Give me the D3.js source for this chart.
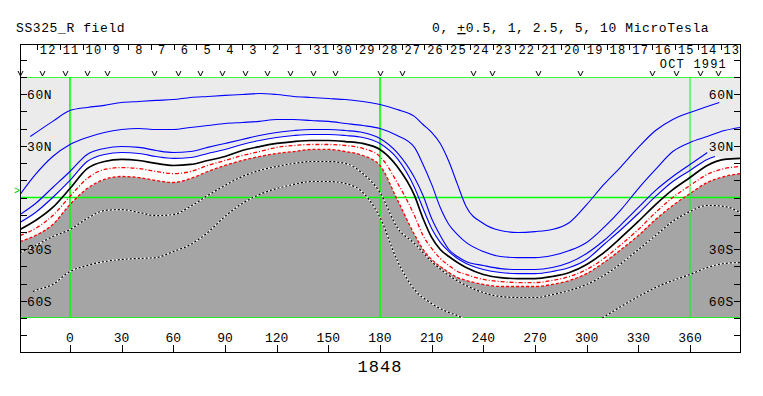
<!DOCTYPE html>
<html>
<head>
<meta charset="utf-8">
<script src="https://cdn.jsdelivr.net/npm/d3@7"></script>
<style>
  body { margin: 0; background: #fff; }
  svg { display: block; }
  text { font-family: "Liberation Mono", "DejaVu Sans Mono", monospace; fill: #000; }
</style>
</head>
<body>
<svg id="chart"></svg>
<script>
// Day labels along the top (Carrington longitude runs backwards in time)
const dayLabels = [12, 11, 10, 9, 8, 7, 6, 5, 4, 3, 2, 1, 31, 30, 29, 28, 27, 26, 25, 24, 23, 22, 21, 20, 19, 18, 17, 16, 15, 14, 13];
const dayTicks = [-19.2, -6.0, 7.3, 20.5, 33.7, 47.0, 60.2, 73.4, 86.6, 99.9, 113.1, 126.3, 139.6, 152.8, 166.0,
  179.3, 192.5, 205.7, 218.9, 232.2, 245.4, 258.6, 271.9, 285.1, 298.3, 311.6, 324.8, 338.0, 351.2, 364.5, 377.7, 390.9];
const orbitMarks = [-29, -16, -3, 10, 21.5, 49, 63, 75.5, 88, 101.5, 114.5, 128, 141, 154, 180, 193, 234, 245, 272, 296, 338, 352, 366, 376];
const lonTicks = [0, 30, 60, 90, 120, 150, 180, 210, 240, 270, 300, 330, 360];
const latTicks = [-80, -70, -60, -50, -40, -30, -20, -10, 0, 10, 20, 30, 40, 50, 60, 70, 80];
const latLabels = [60, 30, -30, -60];
const gridLons = [0, 180, 360];
const gridLats = [70, 0, -70];
const subEarthLat = 3.5;

// Contour lines, [longitude, latitude], levels in microtesla
const pos5 = [[-23,35.4],[-10,44.2],[0,50.5],[10,52.3],[20,53.5],[30,55.2],[40,55.8],[50,56.4],[60,56.9],[70,58.1],[80,58.7],[90,59.3],[100,59.8],[110,60.4],[120,59.8],[130,58.7],[140,58.1],[150,57.5],[160,56.9],[170,55.8],[180,54.0],[190,51.1],[200,47.1],[205,42.4],[210,37.8],[215,31.4],[220,20.9],[225,7.6],[230,-5.2],[240,-15.1],[250,-19.2],[260,-20.3],[270,-19.8],[280,-18.6],[290,-14.5],[300,-4.1],[310,7.6],[320,18.0],[330,29.1],[340,38.9],[350,45.3],[360,49.4],[370,52.9],[377,55.2]];
const pos2_5 = [[-29,1.7],[-20,13.4],[-10,23.8],[0,30.8],[10,34.9],[20,37.8],[30,39.5],[40,40.1],[50,39.5],[60,39.5],[70,40.7],[80,41.8],[90,43.0],[100,43.6],[110,44.2],[120,45.3],[130,45.3],[140,44.7],[150,44.2],[160,43.0],[170,41.8],[180,40.1],[190,36.0],[200,29.1],[205,19.2],[210,7.6],[215,-5.8],[220,-15.7],[225,-21.5],[230,-26.1],[240,-31.4],[250,-34.3],[260,-34.9],[270,-34.9],[280,-33.7],[290,-30.8],[300,-26.1],[310,-17.4],[320,-7.0],[330,5.2],[340,16.3],[350,26.7],[360,32.0],[370,35.4],[380,38.9],[389,40.7]];
const pos1 = [[-29,-9.9],[-20,-3.5],[-10,5.8],[0,15.1],[10,25.0],[20,28.5],[30,29.6],[40,29.1],[50,27.3],[60,26.1],[70,26.7],[80,29.1],[90,31.4],[100,33.7],[110,36.0],[120,37.8],[130,38.9],[140,39.5],[150,39.5],[160,38.9],[170,37.8],[180,34.3],[190,26.1],[200,11.6],[205,1.2],[210,-12.2],[215,-22.1],[220,-30.2],[225,-34.3],[230,-37.2],[240,-39.5],[250,-41.3],[260,-41.8],[270,-41.8],[280,-40.7],[290,-37.8],[300,-32.5],[310,-25.0],[320,-15.7],[330,-5.8],[340,4.1],[350,12.2],[360,19.2],[370,26.1]];
const pos0_5 = [[-29,-14.5],[-20,-8.7],[-10,0],[0,9.9],[10,20.9],[20,25.0],[30,26.1],[40,25.6],[50,23.8],[60,22.7],[70,23.2],[80,25.6],[90,27.9],[100,30.8],[110,33.1],[120,34.9],[130,36.0],[140,36.6],[150,36.6],[160,36.0],[170,34.9],[180,31.4],[190,22.7],[200,5.8],[205,-6.4],[210,-18.0],[215,-26.1],[220,-31.4],[225,-35.4],[230,-38.3],[240,-41.8],[250,-43.6],[260,-44.2],[270,-44.2],[280,-43.0],[290,-40.7],[300,-36.0],[310,-27.3],[320,-18.6],[330,-9.3],[340,0.6],[350,9.3],[360,15.7],[370,22.1],[374.5,23.8]];
const zero = [[-29,-18.6],[-20,-13.4],[-10,-5.8],[0,5.2],[10,16.8],[20,20.9],[30,22.1],[40,21.5],[50,19.8],[60,18.6],[70,19.2],[80,21.5],[90,23.8],[100,27.3],[110,29.6],[120,31.4],[130,32.5],[140,33.1],[150,33.1],[160,32.5],[170,31.4],[180,27.9],[190,18.0],[200,1.2],[205,-12.2],[210,-23.2],[215,-30.2],[220,-34.3],[225,-37.8],[230,-40.7],[240,-44.7],[250,-46.5],[260,-47.1],[270,-47.1],[280,-45.9],[290,-43.6],[300,-38.9],[310,-32.0],[320,-23.2],[330,-13.9],[340,-4.1],[350,4.6],[360,11.6],[370,18.6],[380,22.1],[389,22.7]];
const neg0_5 = [[-29,-22.1],[-20,-18.0],[-10,-10.5],[0,0.6],[10,11.0],[20,16.3],[30,17.4],[40,16.8],[50,15.1],[60,13.9],[70,15.1],[80,18.6],[90,21.5],[100,24.4],[110,26.7],[120,29.1],[130,30.2],[140,30.8],[150,30.8],[160,30.2],[170,28.5],[180,23.8],[190,8.7],[200,-10.5],[205,-22.1],[210,-29.6],[215,-35.4],[220,-39.5],[225,-43.0],[230,-44.7],[240,-47.6],[250,-48.8],[260,-49.4],[270,-49.4],[280,-48.2],[290,-45.9],[300,-41.8],[310,-35.4],[320,-27.3],[330,-18.6],[340,-8.7],[350,0],[360,7.0],[370,13.4],[380,16.8],[389,18.0]];
const neg1 = [[-29,-25.6],[-20,-22.1],[-10,-15.7],[0,-4.1],[10,5.2],[20,10.5],[30,12.2],[40,11.6],[50,9.9],[60,8.7],[70,11.0],[80,15.1],[90,18.6],[100,21.5],[110,23.8],[120,25.6],[130,26.7],[140,27.9],[150,27.9],[160,26.7],[170,24.4],[180,18.6],[190,-1.2],[200,-21.5],[205,-30.2],[210,-36.0],[215,-40.1],[220,-43.6],[225,-46.5],[230,-48.2],[240,-50.5],[250,-51.7],[260,-51.7],[270,-51.7],[280,-50.5],[290,-48.2],[300,-44.2],[310,-37.8],[320,-30.2],[330,-22.1],[340,-12.8],[350,-4.6],[360,2.3],[370,8.7],[380,12.2],[389,13.9]];
const neg2_5 = [[-29,-32.0],[-20,-27.9],[-10,-22.7],[0,-18.6],[10,-12.2],[20,-7.6],[30,-7.0],[40,-8.7],[50,-10.5],[60,-9.9],[70,-5.2],[80,1.2],[90,7.0],[100,12.2],[110,15.7],[120,18.0],[130,19.8],[140,20.9],[150,20.9],[160,19.8],[170,13.9],[180,2.9],[190,-17.4],[200,-26.7],[210,-37.2],[220,-45.3],[230,-51.1],[240,-55.2],[250,-57.5],[260,-58.1],[270,-58.1],[280,-56.4],[290,-54.0],[300,-50.5],[310,-45.3],[320,-38.3],[330,-30.2],[340,-22.1],[350,-13.9],[360,-8.1],[370,-4.6],[380,-5.2],[389,-8.7]];
const neg5West = [[-21.5,-54.6],[-20,-54.0],[-10,-50.5],[0,-43.0],[10,-39.5],[20,-37.2],[30,-36.0],[40,-35.4],[50,-34.9],[60,-31.4],[70,-27.3],[80,-20.3],[90,-11.0],[100,-3.5],[110,1.7],[120,5.2],[130,7.6],[140,9.3],[150,9.3],[160,8.1],[170,2.9],[180,-11.6],[190,-36.6],[200,-53.5],[210,-61.6],[220,-66.8],[225,-68.6],[228,-70]];
const neg5East = [[309,-70],[320,-63.3],[330,-57.5],[340,-52.3],[350,-48.2],[360,-44.7],[370,-40.7],[380,-38.3],[389,-37.8]];

const width = 763, height = 396;
const svg = d3.select("#chart").attr("width", width).attr("height", height);

const x = d3.scaleLinear().domain([-29, 389.6]).range([20, 741]);
const y = d3.scaleLinear().domain([-70, 70]).range([318, 77]);

// all labels share one monospace cell width, like the original plot
const mono = sel => sel.attr("font-size", 13).attr("letter-spacing", 0.6);
const monoSmall = sel => sel.attr("font-size", 12).attr("letter-spacing", 1.2);

svg.append("defs").append("clipPath").attr("id", "map")
  .append("rect")
  .attr("x", x(-29)).attr("y", y(70))
  .attr("width", x(389.6) - x(-29)).attr("height", y(-70) - y(70));

const map = svg.append("g").attr("clip-path", "url(#map)");

// Background shading: light above +0.5, white in the band, dark below -1
map.append("rect")
  .attr("x", x(-29)).attr("y", y(70))
  .attr("width", x(389.6) - x(-29)).attr("height", y(-70) - y(70))
  .attr("fill", "#ebebeb");

const area = d3.area()
  .x(d => x(d[0]))
  .y0(y(-70))
  .y1(d => y(d[1]))
  .curve(d3.curveMonotoneX);

const lastLon = pos0_5[pos0_5.length - 1][0];
const whiteEdge = pos0_5.concat(zero.filter(d => d[0] > lastLon));

map.append("path").datum(whiteEdge).attr("d", area).attr("fill", "#ffffff");
map.append("path").datum(neg1).attr("d", area).attr("fill", "#a5a5a5");

// Green reference lines
const green = "#00ff00";
map.selectAll(".glat").data(gridLats).enter().append("line")
  .attr("x1", x(-29)).attr("x2", x(389.6))
  .attr("y1", d => y(d)).attr("y2", d => y(d))
  .attr("stroke", green).attr("stroke-width", 1.6);
map.selectAll(".glon").data(gridLons).enter().append("line")
  .attr("x1", d => x(d)).attr("x2", d => x(d))
  .attr("y1", y(70)).attr("y2", y(-70))
  .attr("stroke", green).attr("stroke-width", d => d === 360 ? 1 : 1.6);

// Contours
const line = d3.line()
  .x(d => x(d[0]))
  .y(d => y(d[1]))
  .curve(d3.curveMonotoneX);

const drawLine = (data, stroke, w, dash) => {
  map.append("path").datum(data)
    .attr("d", line)
    .attr("fill", "none")
    .attr("stroke", stroke)
    .attr("stroke-width", w)
    .attr("stroke-dasharray", dash || null);
};

[neg2_5, neg5West, neg5East].forEach(d => {
  drawLine(d, "#ffffff", 1.2);
  drawLine(d, "#000000", 1.2, "2,2");
});
drawLine(neg1, "#ff0000", 1.3, "3,2");
drawLine(neg0_5, "#ff0000", 1.3, "4,2,1,2");
[pos5, pos2_5, pos1, pos0_5].forEach(d => drawLine(d, "#0000ff", 1.1));
drawLine(zero, "#000000", 1.7);

// Frame
svg.append("rect")
  .attr("x", 20.5).attr("y", 44.5)
  .attr("width", 720).attr("height", 308)
  .attr("fill", "none").attr("stroke", "#000").attr("stroke-width", 1);

// Latitude ticks and labels on both sides
svg.selectAll(".tl").data(latTicks).enter().append("line")
  .attr("x1", 20).attr("x2", 27)
  .attr("y1", d => Math.round(y(d)) + 0.5).attr("y2", d => Math.round(y(d)) + 0.5)
  .attr("stroke", "#000");
svg.selectAll(".tr").data(latTicks).enter().append("line")
  .attr("x1", 734).attr("x2", 741)
  .attr("y1", d => Math.round(y(d)) + 0.5).attr("y2", d => Math.round(y(d)) + 0.5)
  .attr("stroke", "#000");

const latText = d => Math.abs(d) + (d > 0 ? "N" : "S");
svg.selectAll(".ll").data(latLabels).enter().append("text")
  .attr("x", 27).attr("y", d => y(d) + 5)
  .call(mono)
  .text(latText);
svg.selectAll(".lr").data(latLabels).enter().append("text")
  .attr("x", 734).attr("y", d => y(d) + 5)
  .attr("text-anchor", "end")
  .call(mono)
  .text(latText);

// Sub-earth latitude marker
svg.append("text")
  .attr("x", 17).attr("y", y(subEarthLat) + 3)
  .attr("text-anchor", "middle")
  .attr("font-size", 10)
  .style("fill", "#00c000")
  .text(">");

// Longitude axis at the bottom
svg.selectAll(".bt").data(lonTicks).enter().append("line")
  .attr("x1", d => Math.round(x(d)) + 0.5).attr("x2", d => Math.round(x(d)) + 0.5)
  .attr("y1", 345).attr("y2", 353)
  .attr("stroke", "#000");
svg.selectAll(".bl").data(lonTicks).enter().append("text")
  .attr("x", d => x(d)).attr("y", 342)
  .attr("text-anchor", "middle")
  .attr("font-size", 13)
  .text(d => d);

// Day ticks and labels at the top
svg.selectAll(".dt").data(dayTicks.filter(d => x(d) < 740)).enter().append("line")
  .attr("x1", d => Math.round(x(d)) + 0.5).attr("x2", d => Math.round(x(d)) + 0.5)
  .attr("y1", 44).attr("y2", 50)
  .attr("stroke", "#000");
svg.selectAll(".dl").data(dayLabels).enter().append("text")
  .attr("x", (d, i) => x((dayTicks[i] + dayTicks[i + 1]) / 2))
  .attr("y", 54)
  .attr("text-anchor", "middle")
  .call(monoSmall)
  .text(d => d);

svg.append("text")
  .attr("x", 727).attr("y", 68)
  .attr("text-anchor", "end")
  .call(monoSmall)
  .text("OCT 1991");

// Orbit markers above the map, small "v" shapes
svg.selectAll(".om").data(orbitMarks).enter().append("path")
  .attr("d", d => {
    const cx = Math.round(x(d)) + 0.5;
    return `M${cx - 2.5},71 L${cx},76 L${cx + 2.5},71`;
  })
  .attr("fill", "none")
  .attr("stroke", "#000")
  .attr("stroke-width", 1);

// Titles
svg.append("text")
  .attr("x", 16).attr("y", 32)
  .call(mono)
  .text("SS325_R field");

const legend = svg.append("text")
  .attr("x", 432).attr("y", 32)
  .call(mono);
legend.append("tspan").text("0, ");
legend.append("tspan").style("text-decoration", "underline").text("+");
legend.append("tspan").text("0.5, 1, 2.5, 5, 10 MicroTesla");

svg.append("text")
  .attr("x", 380).attr("y", 372)
  .attr("text-anchor", "middle")
  .attr("font-size", 17)
  .attr("letter-spacing", 1)
  .text("1848");
</script>
</body>
</html>
